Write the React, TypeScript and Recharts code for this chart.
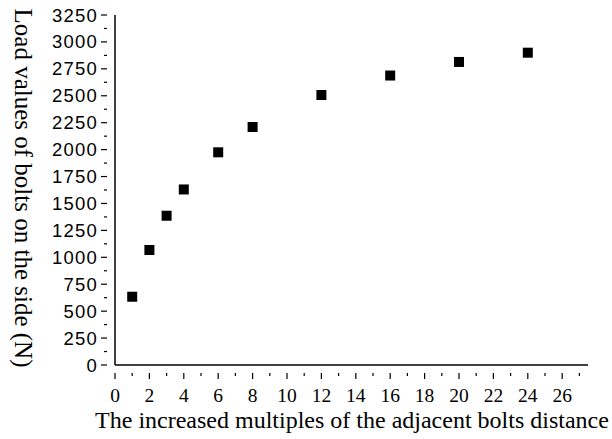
import React from 'react';
import { ScatterChart, Scatter, XAxis, YAxis } from 'recharts';

const multiples = [1, 2, 3, 4, 6, 8, 12, 16, 20, 24];
const loads = [634, 1068, 1386, 1630, 1975, 2210, 2507, 2688, 2814, 2900];

const xTicks = Array.from({ length: 28 }, (_, i) => i);
const yTicks = Array.from({ length: 27 }, (_, i) => i * 125);

const xTitle = 'The increased multiples of the adjacent bolts distance';
const yTitle = 'Load values of bolts on the side (N)';

const points = multiples.map((m, i) => ({ m, load: loads[i] }));

const serif = '"Liberation Serif", "Times New Roman", serif';
const sans = '"Liberation Sans", Arial, sans-serif';

const XTick = (props: any) => {
  const { x, y, payload } = props;
  const major = payload.value % 2 === 0;
  return (
    <g>
      <line x1={x} y1={y} x2={x} y2={y + (major ? 6 : 3)} stroke="#000" strokeWidth={1.2} />
      {major && payload.value <= 26 && (
        <text x={x} y={y + 29} textAnchor="middle" fontFamily={serif} fontSize={19.5} fill="#000">
          {payload.value}
        </text>
      )}
    </g>
  );
};

const YTick = (props: any) => {
  const { x, y, payload } = props;
  const major = payload.value % 250 === 0;
  return (
    <g>
      <line x1={x} y1={y} x2={x - (major ? 6 : 3)} y2={y} stroke="#000" strokeWidth={1.2} />
      {major && (
        <text x={x - 9} y={y + 6.5} textAnchor="end" fontFamily={sans} fontSize={18.5} letterSpacing={1.2} fill="#000">
          {payload.value}
        </text>
      )}
    </g>
  );
};

const Square = (props: any) => {
  const { cx, cy } = props;
  return <rect x={cx - 5} y={cy - 5} width={10} height={10} fill="#000" />;
};

const XTitle = () => (
  <text x={352} y={428} textAnchor="middle" fontFamily={serif} fontSize={24} fill="#000">
    {xTitle}
  </text>
);

const YTitle = () => (
  <text x={15} y={188} textAnchor="middle" fontFamily={serif} fontSize={25} fill="#000" transform="rotate(90, 15, 188)">
    {yTitle}
  </text>
);

export default function App() {
  return (
    <div style={{ position: 'absolute', left: 0, top: 0, width: 612, height: 439, background: '#fff' }}>
      <ScatterChart width={612} height={439} margin={{ top: 15, right: 24, bottom: 44, left: 0 }}>
        <XAxis
          dataKey="m"
          type="number"
          domain={[0, 27.5]}
          ticks={xTicks}
          interval={0}
          height={30}
          axisLine={{ stroke: '#000', strokeWidth: 1.5 }}
          tickLine={false}
          tick={<XTick />}
          label={{ content: <XTitle /> }}
        />
        <YAxis
          dataKey="load"
          type="number"
          domain={[0, 3250]}
          ticks={yTicks}
          interval={0}
          width={115}
          axisLine={{ stroke: '#000', strokeWidth: 1.5 }}
          tickLine={false}
          tick={<YTick />}
          label={{ content: <YTitle /> }}
        />
        <Scatter data={points} shape={<Square />} isAnimationActive={false} />
      </ScatterChart>
    </div>
  );
}
